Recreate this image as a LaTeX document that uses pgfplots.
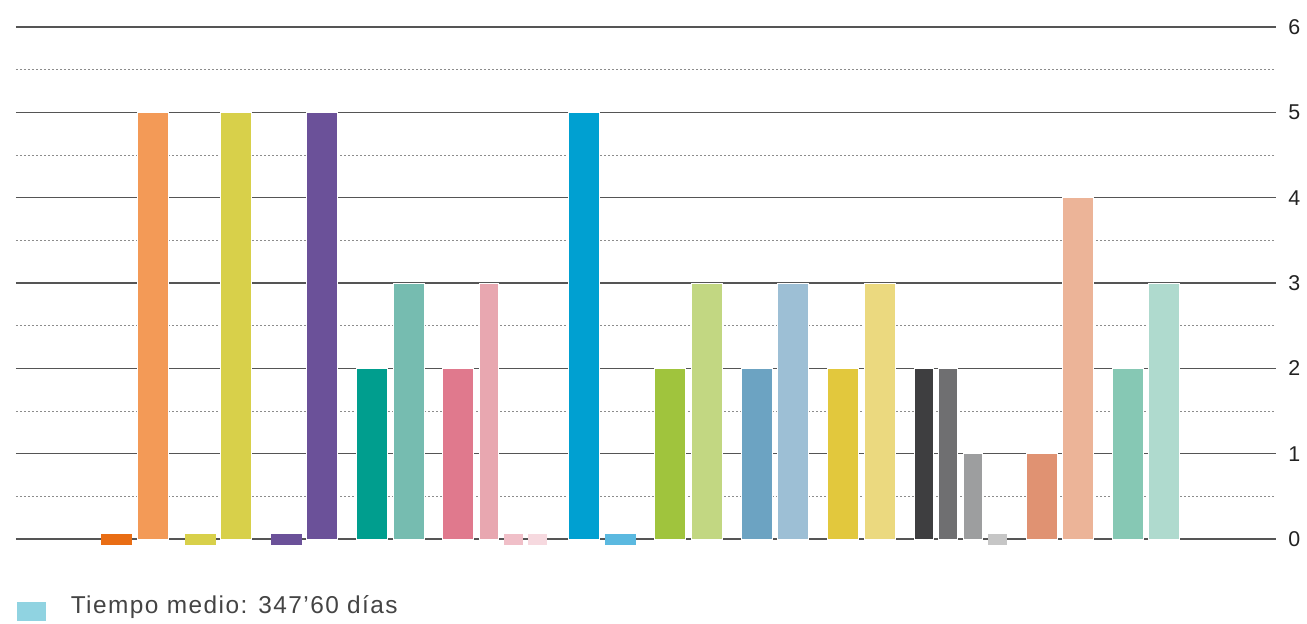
\documentclass[border=0pt]{standalone}
\usepackage{fontspec}
\setmainfont{Liberation Sans}
\usepackage{pgfplots}
\pgfplotsset{compat=1.18}

% grid and text colours
\definecolor{gridmaj}{HTML}{555555}
\definecolor{gridmin}{HTML}{8C8C8C}
\definecolor{tickcol}{HTML}{222222}
\definecolor{legtext}{HTML}{444444}
\definecolor{legblue}{HTML}{90D3E1}
% bar colours
\definecolor{cOrangeA}{HTML}{E96D14}
\definecolor{cOrangeB}{HTML}{F39A57}
\definecolor{cYellow}{HTML}{D8D04A}
\definecolor{cPurple}{HTML}{6B5199}
\definecolor{cTealA}{HTML}{009E8E}
\definecolor{cTealB}{HTML}{76BCB0}
\definecolor{cPinkA}{HTML}{E0798D}
\definecolor{cPinkB}{HTML}{E8A7B0}
\definecolor{cPinkC}{HTML}{F0BFC8}
\definecolor{cPinkD}{HTML}{F6D9DF}
\definecolor{cBlueA}{HTML}{00A0D1}
\definecolor{cBlueB}{HTML}{5BB9E0}
\definecolor{cGreenA}{HTML}{A0C43D}
\definecolor{cGreenB}{HTML}{C2D782}
\definecolor{cSteelA}{HTML}{6CA3C2}
\definecolor{cSteelB}{HTML}{9DBFD5}
\definecolor{cGoldA}{HTML}{E2C83D}
\definecolor{cGoldB}{HTML}{EBD97F}
\definecolor{cGrayA}{HTML}{3E3E40}
\definecolor{cGrayB}{HTML}{6F6F71}
\definecolor{cGrayC}{HTML}{9D9E9F}
\definecolor{cGrayD}{HTML}{C6C6C6}
\definecolor{cSalmonA}{HTML}{E09272}
\definecolor{cSalmonB}{HTML}{ECB498}
\definecolor{cMintA}{HTML}{86C8B4}
\definecolor{cMintB}{HTML}{AFDACE}

% flat markers for zero values, centred on the baseline
\pgfdeclareplotmark{stubwide}{\pgfpathrectangle{\pgfpoint{-7.75pt}{-3pt}}{\pgfpoint{15.5pt}{5.5pt}}\pgfusepathqfill}
\pgfdeclareplotmark{stubnarrow}{\pgfpathrectangle{\pgfpoint{-4.75pt}{-3pt}}{\pgfpoint{9.5pt}{5.5pt}}\pgfusepathqfill}

% colour, centre, width, value
\newcommand{\vbar}[4]{\addplot[forget plot, ybar, bar shift=0pt, bar width=#3, fill=#1, draw=white, line width=0.4pt] coordinates {(#2,#4)};}
% colour, centre, marker
\newcommand{\zbar}[3]{\addplot[forget plot, only marks, mark=#3, color=#1] coordinates {(#2,0)};}

\begin{document}
\begin{tikzpicture}
\begin{axis}[
  scale only axis, width=630pt, height=256pt,
  xmin=16, xmax=1276, ymin=0, ymax=6,
  clip=false,
  axis line style={draw=none},
  xtick=\empty,
  ytick={0,1,2,3,4,5,6},
  minor ytick={0.5,1.5,2.5,3.5,4.5,5.5},
  ymajorgrids, yminorgrids,
  major grid style={draw=gridmaj, line width=0.65pt},
  minor grid style={draw=gridmin, line width=0.5pt, dash pattern=on 1pt off 1pt},
  tick style={draw=none},
  major tick length=0pt, minor tick length=0pt,
  yticklabel pos=right,
  yticklabel style={anchor=west, xshift=6pt, inner sep=0pt, font=\fontsize{10.7}{12}\selectfont, text=tickcol},
  /pgf/number format/assume math mode=true,
  legend style={at={(axis description cs:0,0)}, anchor=north west, xshift=0.5pt, yshift=-28.5pt,
    draw=none, fill=none, inner sep=0pt, outer sep=0pt,
    nodes={inner sep=0pt}, column sep=12.5pt,
    font=\fontsize{12.2}{13}\selectfont\addfontfeatures{LetterSpace=6}, text=legtext},
  legend cell align=left,
]
\zbar{cOrangeA}{116.5}{stubwide}
\vbar{cOrangeB}{152.5}{31}{5}
\zbar{cYellow}{200.4}{stubwide}
\vbar{cYellow}{236.3}{31}{5}
\zbar{cPurple}{286.5}{stubwide}
\vbar{cPurple}{321.9}{31}{5}
\vbar{cTealA}{371.4}{31}{2}
\vbar{cTealB}{408.5}{31}{3}
\vbar{cPinkA}{457.5}{31}{2}
\vbar{cPinkB}{488.5}{19}{3}
\zbar{cPinkC}{513.6}{stubnarrow}
\zbar{cPinkD}{537.5}{stubnarrow}
\vbar{cBlueA}{583.6}{31}{5}
\zbar{cBlueB}{620.8}{stubwide}
\vbar{cGreenA}{669.7}{31}{2}
\vbar{cGreenB}{706.7}{31}{3}
\vbar{cSteelA}{756.7}{31}{2}
\vbar{cSteelB}{792.7}{31}{3}
\vbar{cGoldA}{842.7}{31}{2}
\vbar{cGoldB}{879.7}{31}{3}
\vbar{cGrayA}{923.5}{19}{2}
\vbar{cGrayB}{947.5}{19}{2}
\vbar{cGrayC}{972.5}{19}{1}
\zbar{cGrayD}{997.5}{stubnarrow}
\vbar{cSalmonA}{1041.5}{31}{1}
\vbar{cSalmonB}{1077.5}{31}{4}
\vbar{cMintA}{1127.5}{31}{2}
\vbar{cMintB}{1163.5}{31}{3}
\addlegendimage{legend image code/.code={\fill[legblue] (0pt,-7pt) rectangle (14pt,2pt);}}
\addlegendentry{Tiempo medio: 347’60 días}
\end{axis}
\pgfresetboundingbox
\path (-8pt,-42pt) rectangle (645.5pt,269.5pt);
\end{tikzpicture}
\end{document}
